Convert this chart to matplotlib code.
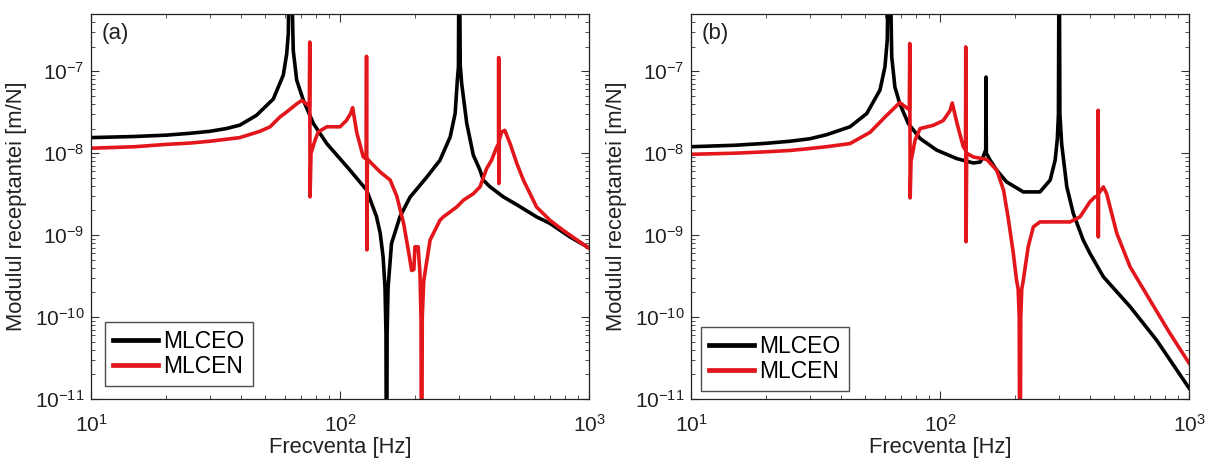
import matplotlib
matplotlib.use("Agg")
import matplotlib.pyplot as plt
from matplotlib.ticker import LogLocator, NullFormatter

# ---------------- data ----------------
# Panel (a) - MLCEO
freq_a_black = [10, 15, 20, 25, 30, 35, 39.6, 46.2, 54, 56.5, 59.2, 61.1, 62, 63.0, 64.9,
                67, 71.3, 78.2, 88.5, 109.7, 128, 140, 145, 149, 151.6, 153, 153.8, 154.6,
                156, 161, 174, 191, 223, 252, 277, 290, 296, 299, 301, 304, 308, 323, 343,
                365, 376, 400, 453, 513, 616, 697, 839, 1000]
mag_a_black = [1.55e-8, 1.6e-8, 1.66e-8, 1.75e-8, 1.85e-8, 2.0e-8, 2.2e-8, 2.9e-8, 4.6e-8,
               6.4e-8, 9e-8, 1.64e-7, 2.9e-7, 1e-5, 1.8e-7, 7.8e-8, 4.4e-8, 2.3e-8, 1.31e-8,
               6.2e-9, 3.54e-9, 1.7e-9, 1.06e-9, 5.4e-10, 2.3e-10, 6.3e-11, 1e-13, 6.3e-11,
               2.3e-10, 7.9e-10, 1.67e-9, 2.9e-9, 5.1e-9, 8.2e-9, 1.58e-8, 3.05e-8, 7.8e-8,
               1.13e-7, 1e-5, 1.2e-7, 7.1e-8, 2.3e-8, 9.5e-9, 6.2e-9, 4.7e-9, 3.9e-9,
               2.93e-9, 2.35e-9, 1.67e-9, 1.39e-9, 9.5e-10, 7.0e-10]

# Panel (a) - MLCEN
freq_a_red = [10, 15, 20, 25, 30, 35, 39.6, 47.7, 52.4, 57.4, 61.1, 67, 70.2, 73.4, 75.3,
              75.6, 75.8, 76.5, 79.4, 81.8, 88.5, 100, 106, 110, 112.4, 116.7, 124, 127.5,
              127.8, 128.2, 128.8, 134, 145, 159, 169, 180, 188, 194, 198, 200, 206, 209.5,
              211.5, 212.6, 214, 217, 230, 252, 260, 294, 313, 343, 365, 388, 406, 426,
              433.5, 433.8, 434.3, 435, 446, 459, 482, 513, 545, 580, 616, 697, 789, 1000]
mag_a_red = [1.15e-8, 1.2e-8, 1.28e-8, 1.33e-8, 1.4e-8, 1.48e-8, 1.55e-8, 1.85e-8, 2.1e-8,
             2.77e-8, 3.19e-8, 4.0e-8, 4.4e-8, 4.0e-8, 3.7e-8, 2.27e-7, 2.93e-9, 1.0e-8,
             1.44e-8, 1.82e-8, 2.1e-8, 2.1e-8, 2.5e-8, 3.0e-8, 3.6e-8, 1.8e-8, 9e-9, 8.5e-9,
             1.52e-7, 6.6e-10, 8.5e-9, 7.5e-9, 5.9e-9, 4.7e-9, 3.0e-9, 1.4e-9, 6.6e-10,
             3.7e-10, 3.8e-10, 7.2e-10, 7.2e-10, 3.4e-10, 1e-10, 1e-13, 1e-10, 2.8e-10,
             8.7e-10, 1.52e-9, 1.67e-9, 2.2e-9, 2.67e-9, 3.2e-9, 3.88e-9, 6.5e-9, 8.2e-9,
             1.19e-8, 1.3e-8, 1.47e-7, 4.27e-9, 1.4e-8, 1.82e-8, 1.9e-8, 1.31e-8, 7.5e-9,
             4.7e-9, 3.2e-9, 2.2e-9, 1.52e-9, 1.14e-9, 6.9e-10]

# Panel (b) - MLCEO
freq_b_black = [10, 15, 20, 25, 30, 35, 43.5, 50.8, 57.4, 60.1, 61.4, 62.5, 64, 65.9, 69,
                74.6, 83.2, 97, 116.7, 136, 145, 149, 152.6, 153, 153.5, 159, 169, 185, 216,
                252, 277, 290, 296, 299, 301, 303, 308, 323, 343, 376, 400, 453, 580, 742,
                1000]
mag_b_black = [1.2e-8, 1.25e-8, 1.32e-8, 1.4e-8, 1.5e-8, 1.68e-8, 2.1e-8, 3.05e-8, 5.9e-8,
               1.13e-7, 2.4e-7, 1e-5, 1.5e-7, 6.4e-8, 4.0e-8, 2.3e-8, 1.51e-8, 1.09e-8,
               8.6e-9, 7.6e-9, 7.8e-9, 9.0e-9, 1.1e-8, 8.5e-8, 1.0e-8, 8.2e-9, 6.2e-9,
               4.47e-9, 3.37e-9, 3.37e-9, 4.7e-9, 8.2e-9, 1.5e-8, 3e-8, 1e-5, 3e-8, 1.3e-8,
               3.9e-9, 1.84e-9, 8.7e-10, 6e-10, 3.1e-10, 1.34e-10, 5.2e-11, 1.36e-11]

# Panel (b) - MLCEN
freq_b_red = [10, 15, 20, 25, 30, 35, 43.5, 52.4, 61.1, 69, 72.4, 75.3, 75.6, 75.9, 76.5,
              79.4, 83.2, 94, 103, 109.7, 112, 116.7, 124, 126.6, 126.9, 127.3, 128, 136,
              154, 169, 180, 188, 197, 203, 206, 208, 209.5, 211, 213, 216, 226, 237, 252,
              333, 365, 400, 419, 431.5, 431.8, 432.3, 433, 453, 467, 482, 513, 545, 580,
              697, 839, 1000]
mag_b_red = [9.7e-9, 1.0e-8, 1.04e-8, 1.08e-8, 1.14e-8, 1.2e-8, 1.31e-8, 1.8e-8, 2.9e-8,
             4.15e-8, 3.7e-8, 3.4e-8, 2.18e-7, 2.85e-9, 8e-9, 1.44e-8, 2.0e-8, 2.19e-8,
             2.5e-8, 3.3e-8, 4.1e-8, 2.4e-8, 1.2e-8, 1.1e-8, 1.98e-7, 8.3e-10, 1.0e-8, 9e-9,
             8.4e-9, 6.2e-9, 3.54e-9, 1.6e-9, 6e-10, 2.8e-10, 2.2e-10, 1e-10, 1e-13, 1e-10,
             2.2e-10, 2.8e-10, 7.2e-10, 1.26e-9, 1.45e-9, 1.45e-9, 1.67e-9, 2.55e-9,
             2.93e-9, 3.0e-9, 3.34e-8, 9.5e-10, 3.2e-9, 3.88e-9, 3.2e-9, 2.2e-9, 1.05e-9,
             6.6e-10, 4.1e-10, 1.61e-10, 6.3e-11, 2.75e-11]

series_names = ["MLCEO", "MLCEN"]
panel_labels = ["(a)", "(b)"]
x_label = "Frecventa [Hz]"
y_label = "Modulul receptantei [m/N]"
x_limits = (10, 1000)
y_limits = (1e-11, 5e-7)

# ---------------- style ----------------
plt.rcParams["font.family"] = ["Liberation Sans", "DejaVu Sans"]
plt.rcParams["mathtext.default"] = "regular"

BLACK = "#000000"
RED = "#e3161b"
LW = 2.6
TXT = "#222222"

fig = plt.figure(figsize=(12.05, 4.59), dpi=100)
ax_a = fig.add_axes([91 / 1205, 60 / 459, 498 / 1205, 385 / 459])
ax_b = fig.add_axes([691 / 1205, 60 / 459, 498 / 1205, 385 / 459])

panels = [
    (ax_a, freq_a_black, mag_a_black, freq_a_red, mag_a_red, (0.028, 0.034)),
    (ax_b, freq_b_black, mag_b_black, freq_b_red, mag_b_red, (0.020, 0.021)),
]

for (ax, fb, mb, fr, mr, leg_anchor), lab in zip(panels, panel_labels):
    ax.plot(fb, mb, color=BLACK, lw=LW, label=series_names[0], solid_joinstyle="round")
    ax.plot(fr, mr, color=RED, lw=LW, label=series_names[1], solid_joinstyle="round")
    ax.set_xscale("log")
    ax.set_yscale("log")
    ax.set_xlim(*x_limits)
    ax.set_ylim(*y_limits)
    ax.yaxis.set_major_locator(LogLocator(base=10, numticks=20))
    ax.yaxis.set_minor_locator(LogLocator(base=10, subs=range(2, 10), numticks=20))
    ax.yaxis.set_minor_formatter(NullFormatter())
    ax.xaxis.set_minor_formatter(NullFormatter())
    ax.tick_params(which="both", direction="in", top=True, right=True,
                   colors="#333333", labelcolor=TXT)
    ax.tick_params(which="major", length=6, width=0.8, labelsize=15)
    ax.tick_params(which="minor", length=3, width=0.6)
    ax.tick_params(axis="x", which="major", pad=10.5)
    ax.tick_params(axis="y", which="major", pad=4.5)
    for sp in ax.spines.values():
        sp.set_color(TXT)
        sp.set_linewidth(0.9)
    ax.set_xlabel(x_label, fontsize=15.8, color=TXT, labelpad=1)
    ax.set_ylabel(y_label, fontsize=15.8, color=TXT, labelpad=6)
    ax.text(0.022, 0.95, lab, transform=ax.transAxes, fontsize=16,
            va="center", ha="left", color=TXT)
    leg = ax.legend(loc="lower left", bbox_to_anchor=leg_anchor, borderaxespad=0,
                    fontsize=16.5, frameon=True, fancybox=False, edgecolor=TXT,
                    handlelength=1.95, handletextpad=0.25, borderpad=0.35,
                    labelspacing=0.1)
    leg.get_frame().set_linewidth(1.0)
    for h in leg.get_lines():
        h.set_linewidth(3.4)

fig.savefig("out.png", dpi=100)
